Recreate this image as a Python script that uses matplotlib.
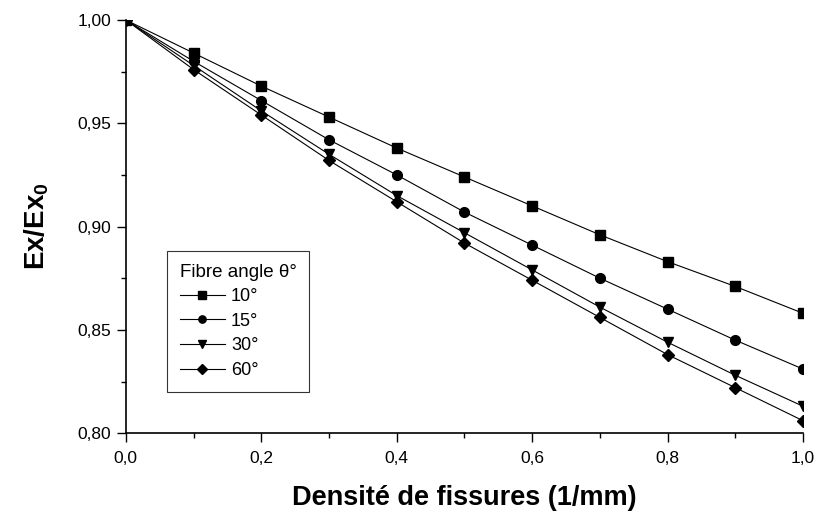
import matplotlib
matplotlib.use("Agg")
import matplotlib.pyplot as plt
from matplotlib.ticker import MultipleLocator, FuncFormatter

plt.rcParams['font.family'] = ['Liberation Sans', 'DejaVu Sans']
plt.rcParams['mathtext.fontset'] = 'custom'
plt.rcParams['mathtext.bf'] = 'Liberation Sans:bold'
plt.rcParams['mathtext.rm'] = 'Liberation Sans'

density = [0.0, 0.1, 0.2, 0.3, 0.4, 0.5, 0.6, 0.7, 0.8, 0.9, 1.0]
ratio_10 = [1.000, 0.984, 0.968, 0.953, 0.938, 0.924, 0.910, 0.896, 0.883, 0.871, 0.858]
ratio_15 = [1.000, 0.980, 0.961, 0.942, 0.925, 0.907, 0.891, 0.875, 0.860, 0.845, 0.831]
ratio_30 = [1.000, 0.978, 0.956, 0.935, 0.915, 0.897, 0.879, 0.861, 0.844, 0.828, 0.813]
ratio_60 = [1.000, 0.976, 0.954, 0.932, 0.912, 0.892, 0.874, 0.856, 0.838, 0.822, 0.806]
labels = ["10°", "15°", "30°", "60°"]
markers = ["s", "o", "v", "D"]

fig = plt.figure(figsize=(8.17, 5.12), dpi=100)
ax = fig.add_axes([0.154, 0.154, 0.829, 0.807])

series = [ratio_10, ratio_15, ratio_30, ratio_60]
for vals, lab, m in zip(series, labels, markers):
    ms = 6.5 if m == "D" else 7
    ax.plot(density, vals, color="black", lw=0.8, marker=m, markersize=ms,
            label=lab, clip_on=True)

ax.set_xlim(0, 1.0)
ax.set_ylim(0.80, 1.00)
ax.spines['top'].set_visible(False)
ax.spines['right'].set_visible(False)
ax.spines['left'].set_linewidth(1.2)
ax.spines['bottom'].set_linewidth(1.2)

ax.xaxis.set_major_locator(MultipleLocator(0.2))
ax.xaxis.set_minor_locator(MultipleLocator(0.1))
ax.yaxis.set_major_locator(MultipleLocator(0.05))
ax.yaxis.set_minor_locator(MultipleLocator(0.025))
ax.xaxis.set_major_formatter(FuncFormatter(lambda v, p: f"{v:.1f}".replace(".", ",")))
ax.yaxis.set_major_formatter(FuncFormatter(lambda v, p: f"{v:.2f}".replace(".", ",")))
ax.tick_params(which='major', direction='out', length=6.5, width=1, labelsize=12.5)
ax.tick_params(axis='x', which='major', pad=6)
ax.tick_params(axis='y', which='major', pad=4)
ax.tick_params(which='minor', direction='out', length=3.5, width=1)

ax.set_xlabel("Densité de fissures (1/mm)", fontsize=19.5, fontweight='bold', labelpad=14)
ax.set_ylabel(r"Ex/Ex$_\mathbf{0}$", fontsize=20, fontweight='bold', labelpad=19)

leg = ax.legend(title="Fibre angle θ°", loc='upper left',
                bbox_to_anchor=(0.0606, 0.441), borderaxespad=0,
                fontsize=13, title_fontsize=13.5,
                frameon=True, fancybox=False, edgecolor='black',
                handlelength=2.5, handletextpad=0.35, labelspacing=0.42,
                borderpad=0.7, markerscale=0.75)
leg.get_frame().set_linewidth(0.8)
leg._legend_box.align = "left"

fig.savefig("out.png", dpi=100)
